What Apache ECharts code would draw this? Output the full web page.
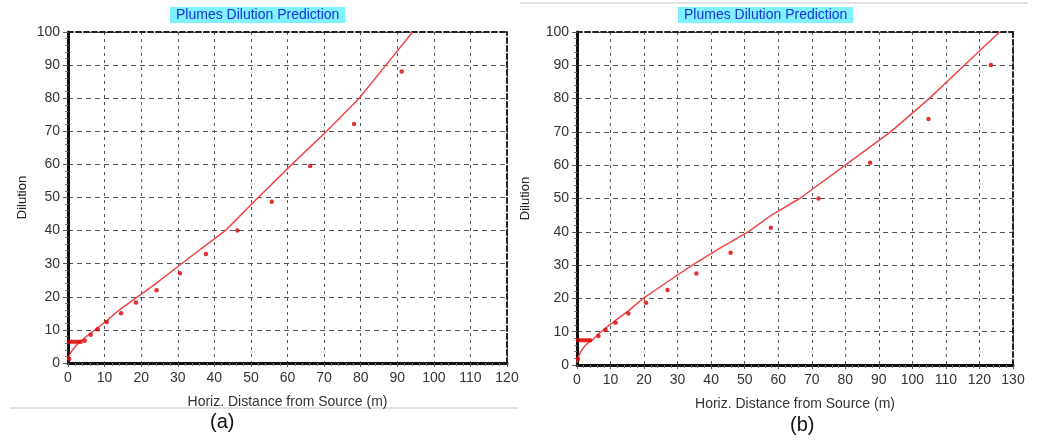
<!DOCTYPE html>
<html>
<head>
<meta charset="utf-8">
<script src="https://cdn.jsdelivr.net/npm/echarts@6/dist/echarts.min.js"></script>
<style>
  html, body { margin: 0; padding: 0; background: #fff; }
  #chart { width: 1050px; height: 441px; }
</style>
</head>
<body>
<div id="chart"></div>
<script>
// (a) model curve and measured points
var curveA_x = [0, 0.5, 1, 2, 3.3, 5, 8.3, 11, 14, 18.5, 24, 30.6, 37, 43, 52, 61.2, 70.7, 79.6, 86.9, 94.2];
var curveA_y = [0.8, 2.6, 3.6, 5, 6.4, 8, 10.8, 13.2, 16, 19.6, 24, 29.6, 35, 40, 50, 60, 70, 80, 90, 100];
var pointsA_x = [0.3, 0.3, 1.1, 1.9, 2.7, 3.5, 4.6, 6.2, 8.1, 10.6, 14.5, 18.6, 24.2, 30.6, 37.7, 46.3, 55.7, 66.2, 78.2, 91.2];
var pointsA_y = [1.2, 6.4, 6.4, 6.4, 6.4, 6.4, 6.7, 8.5, 10.2, 12.4, 15, 18.3, 22, 27.1, 32.9, 40, 48.7, 59.5, 72.2, 88.1];

// (b) model curve and measured points
var curveB_x = [0, 0.5, 1, 2, 3, 4.9, 6.4, 8.5, 11.5, 15.6, 19.7, 27, 34.4, 42.5, 51, 58, 66.4, 80, 93.5, 105, 115.5, 126];
var curveB_y = [0.8, 2.6, 3.8, 5.3, 6.4, 7.8, 9.3, 11.1, 13.4, 16.5, 20, 25, 30, 35, 40, 45, 50, 60, 70, 80, 90, 100];
var pointsB_x = [0.3, 0.3, 1.2, 2.1, 3, 3.9, 6.4, 8.5, 11.5, 15.3, 20.6, 27, 35.6, 45.8, 57.8, 72, 87.4, 104.8, 123.4];
var pointsB_y = [1.8, 7.4, 7.4, 7.4, 7.4, 7.4, 8.7, 10.5, 12.7, 15.5, 18.7, 22.5, 27.5, 33.7, 41.2, 50, 60.7, 73.9, 90.1];

var titleText = 'Plumes Dilution Prediction';
var xName = 'Horiz. Distance from Source (m)';
var yName = 'Dilution';
var panelLabels = ['(a)', '(b)'];

var FONT = '"Liberation Sans", Arial, sans-serif';
var lineColor = '#ee4646';
var dotColor = '#d80000';

function pairs(xs, ys) {
  var out = [];
  for (var i = 0; i < xs.length; i++) out.push([xs[i], ys[i]]);
  return out;
}

function bottomAxis(gi, max, gap) {
  return {
    type: 'value', gridIndex: gi, min: 0, max: max, interval: 10,
    name: xName, nameLocation: 'middle', nameGap: gap,
    nameTextStyle: { fontFamily: FONT, fontSize: 14, color: '#333' },
    axisLine: { onZero: false, lineStyle: { color: '#111', width: 3 } },
    axisTick: { show: true, length: 4, lineStyle: { color: '#555' } },
    minorTick: { show: true, splitNumber: 5, length: 3, lineStyle: { color: '#777' } },
    axisLabel: { fontFamily: FONT, fontSize: 14, color: '#333', margin: 8 },
    splitLine: { show: true, lineStyle: { color: '#555', type: [3, 4], width: 1 } }
  };
}
function topAxis(gi, max) {
  return {
    type: 'value', gridIndex: gi, position: 'top', min: 0, max: max, interval: 10,
    axisLine: { onZero: false, lineStyle: { color: '#222', width: 2, type: [5, 3] } },
    axisTick: { show: false }, axisLabel: { show: false }, splitLine: { show: false }
  };
}
function leftAxis(gi, gap) {
  return {
    type: 'value', gridIndex: gi, min: 0, max: 100, interval: 10,
    name: yName, nameLocation: 'middle', nameGap: gap,
    nameTextStyle: { fontFamily: FONT, fontSize: 13, color: '#222' },
    axisLine: { show: true, onZero: false, lineStyle: { color: '#111', width: 3 } },
    axisTick: { show: true, length: 5, lineStyle: { color: '#555' } },
    minorTick: { show: true, splitNumber: 5, length: 3, lineStyle: { color: '#777' } },
    axisLabel: { fontFamily: FONT, fontSize: 14, color: '#333', margin: 8 },
    splitLine: { show: true, lineStyle: { color: '#555', type: [5, 4], width: 1 } }
  };
}
function rightAxis(gi) {
  return {
    type: 'value', gridIndex: gi, position: 'right', min: 0, max: 100, interval: 10,
    axisLine: { show: true, onZero: false, lineStyle: { color: '#222', width: 2, type: [5, 3] } },
    axisTick: { show: false }, axisLabel: { show: false }, splitLine: { show: false }
  };
}

var chart = echarts.init(document.getElementById('chart'), null, { renderer: 'canvas' });

var titleStyle = { fontFamily: FONT, fontSize: 14, fontWeight: 'normal', color: '#1b36d6' };

var option = {
  backgroundColor: '#fff',
  animation: false,
  title: [
    { text: titleText, left: 170, top: 7, backgroundColor: '#80f2ff', padding: [1, 6], textStyle: titleStyle },
    { text: titleText, left: 678, top: 7, backgroundColor: '#80f2ff', padding: [1, 6], textStyle: titleStyle },
    { text: panelLabels[0], left: 210, top: 412, padding: 0,
      textStyle: { fontFamily: FONT, fontSize: 20, fontWeight: 'normal', color: '#111' } },
    { text: panelLabels[1], left: 790, top: 415, padding: 0,
      textStyle: { fontFamily: FONT, fontSize: 20, fontWeight: 'normal', color: '#111' } }
  ],
  graphic: [
    { type: 'line', shape: { x1: 10, y1: 408, x2: 518, y2: 408 }, style: { stroke: '#c4c4c4', lineWidth: 1 } },
    { type: 'line', shape: { x1: 520, y1: 3, x2: 1028, y2: 3 }, style: { stroke: '#c4c4c4', lineWidth: 1 } }
  ],
  grid: [
    { left: 68, top: 32, width: 439, height: 331 },
    { left: 577, top: 32, width: 436, height: 333 }
  ],
  xAxis: [bottomAxis(0, 120, 32), bottomAxis(1, 130, 32), topAxis(0, 120), topAxis(1, 130)],
  yAxis: [leftAxis(0, 39), leftAxis(1, 45), rightAxis(0), rightAxis(1)],
  series: [
    { type: 'line', xAxisIndex: 0, yAxisIndex: 0, data: pairs(curveA_x, curveA_y),
      showSymbol: false, lineStyle: { color: lineColor, width: 1.5 }, z: 3 },
    { type: 'scatter', xAxisIndex: 0, yAxisIndex: 0, data: pairs(pointsA_x, pointsA_y),
      symbolSize: 4.5, itemStyle: { color: dotColor }, z: 4 },
    { type: 'line', xAxisIndex: 1, yAxisIndex: 1, data: pairs(curveB_x, curveB_y),
      showSymbol: false, lineStyle: { color: lineColor, width: 1.5 }, z: 3 },
    { type: 'scatter', xAxisIndex: 1, yAxisIndex: 1, data: pairs(pointsB_x, pointsB_y),
      symbolSize: 4.5, itemStyle: { color: dotColor }, z: 4 }
  ]
};

chart.setOption(option);
</script>
</body>
</html>
